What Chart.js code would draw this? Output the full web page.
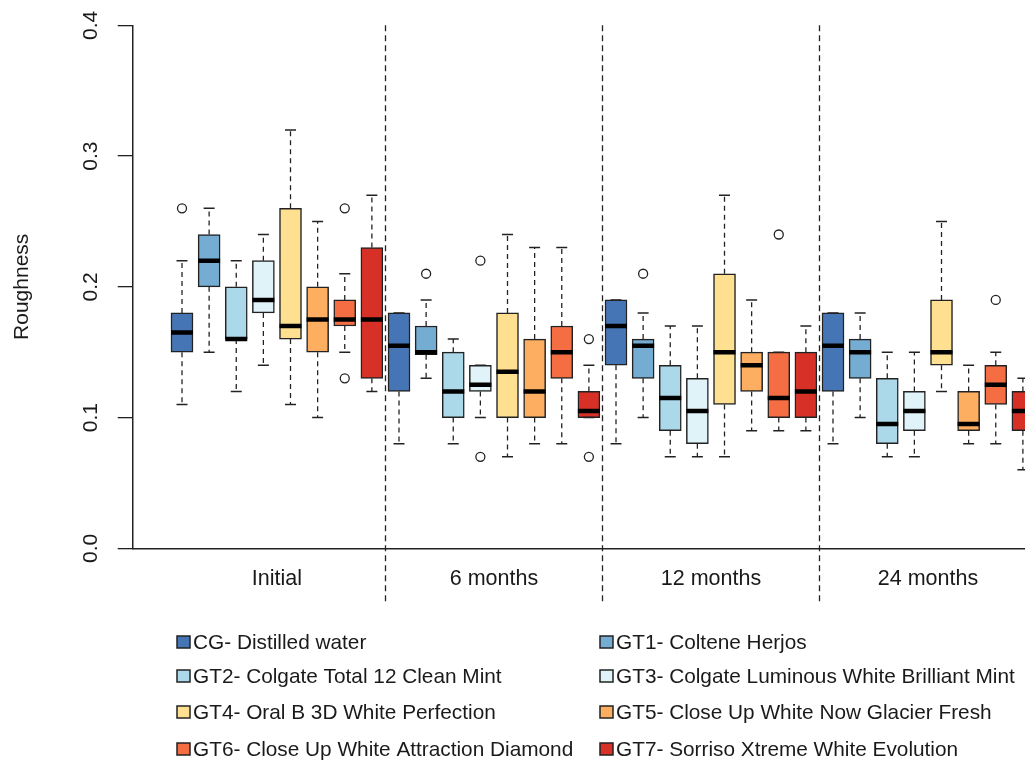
<!DOCTYPE html>
<html>
<head>
<meta charset="utf-8">
<script src="https://cdn.jsdelivr.net/npm/chart.js@4.4.1/dist/chart.umd.min.js"></script>
<style>
  html, body { margin: 0; padding: 0; background: #fff; }
</style>
</head>
<body>
<canvas id="myChart" width="1025" height="762"></canvas>
<script>
var groups = ["Initial", "6 months", "12 months", "24 months"];
var treatments = ["CG- Distilled water", "GT1- Coltene Herjos",
                  "GT2- Colgate Total 12 Clean Mint", "GT3- Colgate Luminous White Brilliant Mint",
                  "GT4- Oral B 3D White Perfection", "GT5- Close Up White Now Glacier Fresh",
                  "GT6- Close Up White Attraction Diamond", "GT7- Sorriso Xtreme White Evolution"];
var boxColors = ["#4575b4", "#74add1", "#abd9e9", "#e0f3f8",
                 "#fee090", "#fdae61", "#f46d43", "#d73027"];

// one row per treatment, one column per time point
var lowWhisker = [[0.11, 0.08, 0.08, 0.08], [0.15, 0.13, 0.10, 0.10], [0.12, 0.08, 0.07, 0.07], [0.14, 0.10, 0.07, 0.07],
                  [0.11, 0.07, 0.07, 0.12], [0.10, 0.08, 0.09, 0.08], [0.15, 0.08, 0.09, 0.08], [0.12, 0.10, 0.09, 0.06]];
var q1 =         [[0.15, 0.12, 0.14, 0.12], [0.20, 0.148, 0.13, 0.13], [0.16, 0.10, 0.09, 0.08], [0.18, 0.12, 0.08, 0.09],
                  [0.16, 0.10, 0.11, 0.14], [0.15, 0.10, 0.12, 0.09], [0.17, 0.13, 0.10, 0.11], [0.13, 0.10, 0.10, 0.09]];
var medians =    [[0.165, 0.155, 0.17, 0.155], [0.22, 0.15, 0.155, 0.15], [0.16, 0.12, 0.115, 0.095], [0.19, 0.125, 0.105, 0.105],
                  [0.17, 0.135, 0.15, 0.15], [0.175, 0.12, 0.14, 0.095], [0.175, 0.15, 0.115, 0.125], [0.175, 0.105, 0.12, 0.105]];
var q3 =         [[0.18, 0.18, 0.19, 0.18], [0.24, 0.17, 0.16, 0.16], [0.20, 0.15, 0.14, 0.13], [0.22, 0.14, 0.13, 0.12],
                  [0.26, 0.18, 0.21, 0.19], [0.20, 0.16, 0.15, 0.12], [0.19, 0.17, 0.15, 0.14], [0.23, 0.12, 0.15, 0.12]];
var highWhisker = [[0.22, 0.18, 0.19, 0.18], [0.26, 0.19, 0.18, 0.18], [0.22, 0.16, 0.17, 0.15], [0.24, 0.14, 0.17, 0.15],
                   [0.32, 0.24, 0.27, 0.25], [0.25, 0.23, 0.19, 0.14], [0.21, 0.23, 0.15, 0.15], [0.27, 0.14, 0.17, 0.13]];
// [treatment, time point, value]
var outliers = [[0, 0, 0.26], [6, 0, 0.26], [6, 0, 0.13],
                [1, 1, 0.21], [3, 1, 0.22], [3, 1, 0.07], [7, 1, 0.16], [7, 1, 0.07],
                [1, 2, 0.21], [6, 2, 0.24],
                [6, 3, 0.19]];
var yTicks = [0, 0.1, 0.2, 0.3, 0.4];

var INK = "#1a1a1a";
Chart.defaults.font.family = "'Liberation Sans', Arial, sans-serif";
Chart.defaults.color = INK;

function slot(t, k) { return k * treatments.length + t; }

var datasets = treatments.map(function (name, t) {
  return {
    type: "bar",
    label: name,
    data: groups.map(function (g, k) { return { x: slot(t, k), y: [q1[t][k], q3[t][k]] }; }),
    backgroundColor: boxColors[t],
    borderColor: "#222",
    borderWidth: 1.5,
    borderSkipped: false,
    barThickness: 22,
    grouped: false
  };
});
datasets.push({
  type: "scatter",
  label: "outliers",
  data: outliers.map(function (o) { return { x: slot(o[0], o[1]), y: o[2] }; }),
  pointRadius: 4.5,
  pointBackgroundColor: "rgba(255,255,255,0)",
  pointBorderColor: "#222",
  pointBorderWidth: 1.3
});

var boxParts = {
  id: "boxParts",
  beforeDatasetsDraw: function (chart) {
    var ctx = chart.ctx, xs = chart.scales.x, area = chart.chartArea;
    ctx.save();
    ctx.strokeStyle = "#222";
    ctx.lineWidth = 1.3;
    ctx.setLineDash([6, 4]);
    for (var k = 1; k < groups.length; k++) {
      var px = Math.round(xs.getPixelForValue(k * treatments.length - 0.5)) + 0.5;
      ctx.beginPath();
      ctx.moveTo(px, area.top);
      ctx.lineTo(px, area.bottom + 53);
      ctx.stroke();
    }
    ctx.restore();
  },
  afterDatasetsDraw: function (chart) {
    var ctx = chart.ctx, ys = chart.scales.y, area = chart.chartArea;
    ctx.save();
    ctx.beginPath();
    ctx.rect(area.left, area.top - 10, area.right - area.left, area.bottom - area.top + 20);
    ctx.clip();
    ctx.strokeStyle = "#222";
    treatments.forEach(function (name, t) {
      chart.getDatasetMeta(t).data.forEach(function (bar, k) {
        var cx = bar.x, hw = bar.width / 2;
        var yLo = ys.getPixelForValue(lowWhisker[t][k]), yQ1 = ys.getPixelForValue(q1[t][k]);
        var yQ3 = ys.getPixelForValue(q3[t][k]), yHi = ys.getPixelForValue(highWhisker[t][k]);
        // dashed whiskers
        ctx.lineWidth = 1.3;
        ctx.setLineDash([5, 4]);
        ctx.beginPath();
        if (yHi < yQ3) { ctx.moveTo(cx, yQ3); ctx.lineTo(cx, yHi); }
        if (yLo > yQ1) { ctx.moveTo(cx, yQ1); ctx.lineTo(cx, yLo); }
        ctx.stroke();
        // staples
        ctx.setLineDash([]);
        ctx.lineWidth = 1.5;
        ctx.beginPath();
        ctx.moveTo(cx - hw / 2, yHi); ctx.lineTo(cx + hw / 2, yHi);
        ctx.moveTo(cx - hw / 2, yLo); ctx.lineTo(cx + hw / 2, yLo);
        ctx.stroke();
        // median
        var yMed = ys.getPixelForValue(medians[t][k]);
        ctx.strokeStyle = "#000";
        ctx.lineWidth = 4.5;
        ctx.beginPath();
        ctx.moveTo(cx - hw, yMed); ctx.lineTo(cx + hw, yMed);
        ctx.stroke();
        ctx.strokeStyle = "#222";
      });
    });
    ctx.restore();
  },
  afterDraw: function (chart) {
    var ctx = chart.ctx, ys = chart.scales.y, area = chart.chartArea;
    ctx.save();
    // y tick labels, rotated like the axis
    ctx.fillStyle = INK;
    ctx.font = "21px 'Liberation Sans', Arial, sans-serif";
    ctx.textAlign = "center";
    ctx.textBaseline = "alphabetic";
    yTicks.forEach(function (v) {
      ctx.save();
      ctx.translate(area.left - 36, ys.getPixelForValue(v));
      ctx.rotate(-Math.PI / 2);
      ctx.fillText(v.toFixed(1), 0, 0);
      ctx.restore();
    });
    // legend in two columns
    var colX = [177, 600], rowY = [642, 676, 712, 749];
    ctx.font = "20.8px 'Liberation Sans', Arial, sans-serif";
    ctx.textAlign = "left";
    ctx.textBaseline = "middle";
    treatments.forEach(function (name, t) {
      var x = colX[t % 2], y = rowY[Math.floor(t / 2)];
      ctx.fillStyle = boxColors[t];
      ctx.fillRect(x, y - 6, 13, 12);
      ctx.strokeStyle = "#222";
      ctx.lineWidth = 1.5;
      ctx.strokeRect(x, y - 6, 13, 12);
      ctx.fillStyle = INK;
      ctx.fillText(name, x + 16, y + 1);
    });
    ctx.restore();
  }
};

new Chart("myChart", {
  type: "bar",
  data: { datasets: datasets },
  plugins: [boxParts],
  options: {
    responsive: false,
    animation: false,
    devicePixelRatio: 1,
    layout: { autoPadding: false, padding: { top: 25.3, right: 0, left: 0, bottom: 153.7 } },
    plugins: { legend: { display: false }, tooltip: { enabled: false } },
    scales: {
      x: {
        type: "linear",
        offset: false,
        min: -1.8175,
        max: 31.078,
        grid: { display: false },
        border: { display: true, color: "#222", width: 1.5 },
        afterBuildTicks: function (scale) {
          scale.ticks = groups.map(function (g, k) { return { value: k * treatments.length + 3.5 }; });
        },
        afterFit: function (scale) { scale.height = 60; },
        ticks: {
          autoSkip: false,
          maxRotation: 0,
          padding: 10,
          font: { size: 21.5 },
          color: INK,
          callback: function (value, index) { return groups[index]; }
        }
      },
      y: {
        type: "linear",
        min: 0,
        max: 0.4,
        afterBuildTicks: function (scale) {
          scale.ticks = yTicks.map(function (v) { return { value: v }; });
        },
        afterFit: function (scale) { scale.width = 132.7; },
        grid: { drawOnChartArea: false, drawTicks: true, tickLength: 15, color: "#222", lineWidth: 1.3 },
        border: { display: true, color: "#222", width: 1.5 },
        ticks: { display: false },
        title: {
          display: true,
          text: "Roughness",
          font: { size: 21 },
          color: INK,
          padding: { top: 10, bottom: 0 }
        }
      }
    }
  }
});
</script>
</body>
</html>
